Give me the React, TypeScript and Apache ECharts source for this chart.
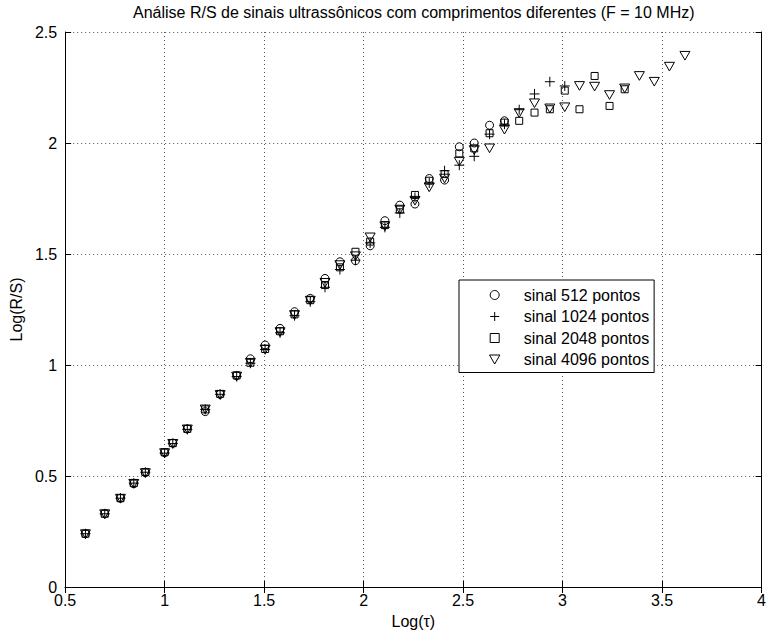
import { useEffect, useRef } from 'react';
import * as echarts from 'echarts';

const chartTitle = 'Análise R/S de sinais ultrassônicos com comprimentos diferentes (F = 10 MHz)';
const xAxisName = 'Log(τ)';
const yAxisName = 'Log(R/S)';
const seriesNames = ['sinal 512 pontos', 'sinal 1024 pontos', 'sinal 2048 pontos', 'sinal 4096 pontos'];

// Log(tau) positions shared by all series
const logTau = [
  0.602, 0.699, 0.778, 0.845, 0.903, 1.0, 1.041, 1.114, 1.204, 1.279,
  1.362, 1.431, 1.505, 1.58, 1.653, 1.732, 1.806, 1.881, 1.959, 2.033,
  2.107, 2.182, 2.258, 2.33, 2.407, 2.481, 2.556, 2.633, 2.708, 2.782,
  2.859, 2.936, 3.011, 3.085, 3.161, 3.236, 3.312, 3.386, 3.461, 3.537, 3.615,
];

const rs512 = [
  0.24, 0.33, 0.40, 0.465, 0.515, 0.605, 0.648, 0.712, 0.79, 0.868,
  0.952, 1.028, 1.09, 1.165, 1.24, 1.30, 1.39, 1.465, 1.47, 1.537,
  1.65, 1.72, 1.725, 1.84, 1.833, 1.983, 2.0, 2.08, 2.10,
];

const rs1024 = [
  0.24, 0.33, 0.40, 0.468, 0.517, 0.603, 0.646, 0.71, 0.80, 0.868,
  0.948, 1.008, 1.07, 1.145, 1.222, 1.285, 1.35, 1.43, 1.472, 1.55,
  1.62, 1.685, 1.755, 1.82, 1.875, 1.90, 1.94, 2.04, 2.085, 2.15,
  2.221, 2.276, 2.257,
];

const rs2048 = [
  0.24, 0.33, 0.40, 0.468, 0.518, 0.607, 0.648, 0.712, 0.80, 0.87,
  0.953, 1.01, 1.072, 1.152, 1.228, 1.292, 1.36, 1.44, 1.51, 1.556,
  1.63, 1.70, 1.766, 1.83, 1.86, 1.953, 1.976, 2.044, 2.092, 2.10,
  2.137, 2.152, 2.236, 2.152, 2.302, 2.167, 2.242,
];

const rs4096 = [
  0.238, 0.328, 0.398, 0.465, 0.513, 0.603, 0.645, 0.71, 0.80, 0.865,
  0.948, 1.01, 1.07, 1.148, 1.225, 1.29, 1.37, 1.45, 1.49, 1.575,
  1.625, 1.70, 1.74, 1.80, 1.84, 1.916, 1.968, 1.976, 2.06, 2.135,
  2.179, 2.156, 2.161, 2.257, 2.254, 2.216, 2.246, 2.302, 2.276, 2.344, 2.393,
];

export default function App() {
  const ref = useRef<HTMLDivElement>(null);
  useEffect(() => {
    document.body.style.margin = '0';
    const chart = echarts.init(ref.current!, null, { renderer: 'svg' });
    const font = "'Liberation Sans', Arial, Helvetica, sans-serif";
    const pair = (ys: number[]) => ys.map((y, i) => [logTau[i], y]);
    const allY = [rs512, rs1024, rs2048, rs4096];
    const symbols = [
      'circle',
      'path://M5,0L5,10M0,5L10,5',
      'path://M0,0L10,0L10,10L0,10Z',
      'path://M0,0L10,0L5,8.66Z',
    ];
    const sizes = [8, 10, 7, 10];
    const grid = { left: 60, right: 4, top: 32, bottom: 49 };
    const axisLine = { show: true, lineStyle: { color: '#000', width: 1 } };
    const tick = { show: true, inside: true, length: 6, lineStyle: { color: '#000' } };
    const split = { show: true, lineStyle: { color: '#555', type: [1, 3] as any, width: 1 } };
    const label = { color: '#000', fontSize: 16, fontFamily: font };
    const markerStyle = { color: 'rgba(0,0,0,0)', borderColor: '#000', borderWidth: 1, opacity: 1 };

    chart.setOption({
      animation: false,
      backgroundColor: '#fff',
      title: {
        text: chartTitle,
        left: 133,
        top: 4,
        padding: 0,
        textStyle: { color: '#000', fontSize: 16, fontWeight: 'normal', fontFamily: font },
      },
      grid,
      legend: {
        orient: 'vertical',
        left: 459,
        top: 280,
        padding: [7, 5, 5, 30],
        itemWidth: 48,
        itemHeight: 9,
        itemGap: 5.5,
        symbolKeepAspect: true,
        borderColor: '#000',
        borderWidth: 1,
        backgroundColor: '#fff',
        itemStyle: { ...markerStyle },
        textStyle: { color: '#000', fontSize: 16, fontFamily: font, lineHeight: 16 },
        data: seriesNames.map((name, k) => ({ name, icon: symbols[k] })),
      },
      xAxis: [
        {
          type: 'value', min: 0.5, max: 4, interval: 0.5, position: 'bottom',
          axisLine, axisTick: tick, splitLine: split,
          axisLabel: { ...label, margin: 5 },
          name: xAxisName, nameLocation: 'middle', nameGap: 26,
          nameTextStyle: { color: '#000', fontSize: 16, fontFamily: font },
        },
        {
          type: 'value', min: 0.5, max: 4, interval: 0.5, position: 'top',
          axisLine, axisTick: tick, splitLine: { show: false }, axisLabel: { show: false },
        },
      ],
      yAxis: [
        {
          type: 'value', min: 0, max: 2.5, interval: 0.5, position: 'left',
          axisLine, axisTick: tick, splitLine: split,
          axisLabel: { ...label, margin: 8 },
          name: yAxisName, nameLocation: 'middle', nameGap: 34,
          nameTextStyle: { color: '#000', fontSize: 16, fontFamily: font },
        },
        {
          type: 'value', min: 0, max: 2.5, interval: 0.5, position: 'right',
          axisLine, axisTick: tick, splitLine: { show: false }, axisLabel: { show: false },
        },
      ],
      series: seriesNames.map((name, k) => ({
        name,
        type: 'scatter',
        xAxisIndex: 0,
        yAxisIndex: 0,
        symbol: symbols[k],
        symbolSize: sizes[k],
        symbolKeepAspect: true,
        itemStyle: { ...markerStyle },
        emphasis: { disabled: true },
        data: pair(allY[k]),
      })),
    });
    return () => chart.dispose();
  }, []);
  return <div ref={ref} style={{ width: 769, height: 636 }} />;
}
